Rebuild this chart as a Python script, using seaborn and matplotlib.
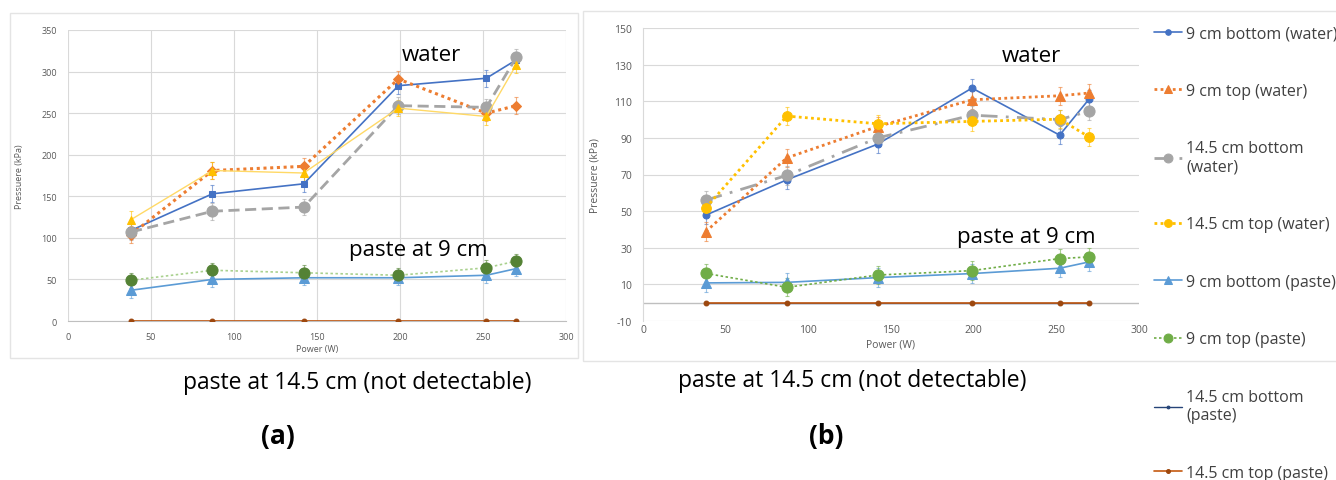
import matplotlib
matplotlib.use("Agg")
import matplotlib.pyplot as plt
import matplotlib.patches as patches
import seaborn as sns

sns.set_style("white")
plt.rcParams['font.family'] = ['Open Sans', 'DejaVu Sans']
plt.rcParams['axes.unicode_minus'] = False

# power levels (W)
power = [38, 87, 142, 199, 252, 270]

series_names = ["9 cm bottom (water)", "9 cm top (water)", "14.5 cm bottom\n(water)",
                "14.5 cm top (water)", "9 cm bottom (paste)", "9 cm top (paste)",
                "14.5 cm bottom\n(paste)", "14.5 cm top (paste)"]

# panel (a) pressures (kPa)
a_bottom9_water = [109, 153, 165, 283, 292, 314]
a_top9_water = [104, 181, 186, 291, 250, 259]
a_bottom145_water = [107, 132, 137, 259, 257, 317]
a_top145_water = [122, 181, 178, 256, 246, 308]
a_bottom9_paste = [37, 50, 52, 52, 55, 63]
a_top9_paste = [49, 61, 58, 55, 64, 72]
a_bottom145_paste = [0, 0, 0, 0, 0, 0]
a_top145_paste = [0, 0, 0, 0, 0, 0]
a_err = [10, 10, 10, 10, 9, 9, 0, 0]

# panel (b) pressures (kPa)
b_bottom9_water = [47.8, 67.1, 86.6, 117.2, 91.5, 111.4]
b_top9_water = [38.8, 79.1, 96.2, 110.8, 113.0, 114.5]
b_bottom145_water = [56.0, 69.5, 90.0, 102.4, 100.0, 104.6]
b_top145_water = [51.8, 101.9, 97.7, 99.0, 100.2, 90.4]
b_bottom9_paste = [10.8, 11.1, 13.7, 15.9, 18.8, 22.3]
b_top9_paste = [16.0, 8.4, 15.1, 17.5, 24.1, 25.0]
b_bottom145_paste = [0, 0, 0, 0, 0, 0]
b_top145_paste = [0, 0, 0, 0, 0, 0]
b_err = [5, 5, 5, 5, 5, 5, 0, 0]

a_values = [a_bottom9_water, a_top9_water, a_bottom145_water, a_top145_water,
            a_bottom9_paste, a_top9_paste, a_bottom145_paste, a_top145_paste]
b_values = [b_bottom9_water, b_top9_water, b_bottom145_water, b_top145_water,
            b_bottom9_paste, b_top9_paste, b_bottom145_paste, b_top145_paste]

# (line colour, marker colour, linestyle, linewidth, marker, markersize)
a_styles = [
    ("#4472C4", "#4472C4", "-", 1.2, "s", 5),
    ("#ED7D31", "#ED7D31", (0, (1, 1.2)), 2.2, "D", 5),
    ("#A5A5A5", "#A5A5A5", (0, (4, 2)), 2.0, "o", 8),
    ("#FFD966", "#FFC000", "-", 1.0, "^", 6),
    ("#5B9BD5", "#5B9BD5", "-", 1.2, "^", 7),
    ("#A9D18E", "#548235", (0, (1.5, 1.5)), 1.2, "o", 8),
    ("#264478", "#264478", "-", 1.0, "o", 2.5),
    ("#C55A11", "#9E480E", "-", 1.2, "o", 3.5),
]
b_styles = [
    ("#4472C4", "#4472C4", "-", 1.2, "o", 5),
    ("#ED7D31", "#ED7D31", (0, (1, 1.2)), 2.0, "^", 7),
    ("#A5A5A5", "#A5A5A5", (0, (6, 3, 1, 3)), 2.0, "o", 8),
    ("#FFC000", "#FFC000", (0, (1, 1.2)), 2.0, "o", 7),
    ("#5B9BD5", "#5B9BD5", "-", 1.2, "^", 7),
    ("#70AD47", "#70AD47", (0, (1.5, 1.5)), 1.2, "o", 8),
    ("#264478", "#264478", "-", 1.0, "o", 2.5),
    ("#C55A11", "#9E480E", "-", 1.2, "o", 3.5),
]

fig = plt.figure(figsize=(13.36, 4.81), dpi=100)
W, H = 1336, 481
axA = fig.add_axes([68 / W, 1 - 322 / H, (566 - 68) / W, (322 - 31) / H])
axB = fig.add_axes([643 / W, 1 - 322 / H, (1139 - 643) / W, (322 - 29) / H])

def draw(ax, values, styles, errs):
    for name, vals, st, e in zip(series_names, values, styles, errs):
        lc, mc, ls, lw, mk, ms = st
        if e > 0:
            ax.errorbar(power, vals, yerr=e, fmt="none", ecolor=mc, elinewidth=0.8,
                        capsize=1.5, capthick=0.8, alpha=0.6, zorder=2)
        sns.lineplot(x=power, y=vals, ax=ax, color=lc, linestyle=ls, linewidth=lw,
                     marker=mk, markersize=ms, markerfacecolor=mc, markeredgecolor=mc,
                     errorbar=None, label=name, zorder=3)
    if ax.get_legend() is not None:
        ax.get_legend().remove()

draw(axA, a_values, a_styles, a_err)
draw(axB, b_values, b_styles, b_err)

grid_c = "#D9D9D9"
tick_c = "#595959"

axA.set_xlim(0, 300)
axA.set_ylim(0, 350)
axA.set_xticks(range(0, 301, 50))
axA.set_yticks(range(0, 351, 50))
axA.grid(True, color=grid_c, linewidth=0.8)
for s in axA.spines.values():
    s.set_visible(False)
axA.spines["bottom"].set_visible(True)
axA.spines["bottom"].set_color("#BFBFBF")
axA.tick_params(length=0, labelsize=6.5, labelcolor=tick_c, pad=8)
axA.set_xlabel("Power (W)", fontsize=6.5, color=tick_c, labelpad=2)
axA.set_ylabel("Pressuere (kPa)", fontsize=6.5, color=tick_c, labelpad=12)

axB.set_xlim(0, 300)
axB.set_ylim(-10, 150)
axB.set_xticks(range(0, 301, 50))
axB.set_yticks(range(-10, 151, 20))
axB.grid(True, axis="y", color=grid_c, linewidth=0.8)
for s in axB.spines.values():
    s.set_visible(False)
axB.spines["left"].set_visible(True)
axB.spines["left"].set_color(grid_c)
axB.axhline(0, color="#BFBFBF", linewidth=1.0, zorder=1)
axB.tick_params(length=0, labelsize=7.5, labelcolor=tick_c, pad=2)
axB.tick_params(axis="y", pad=8)
axB.set_xlabel("Power (W)", fontsize=7.5, color=tick_c, labelpad=3)
axB.set_ylabel("Pressuere (kPa)", fontsize=7.5, color=tick_c, labelpad=10)

txt = dict(ha="center", va="center", color="black")
axA.text(219, 321, "water", fontsize=16, **txt)
axA.text(211, 86, "paste at 9 cm", fontsize=16, **txt)
axB.text(235, 135, "water", fontsize=16, **txt)
axB.text(232, 36, "paste at 9 cm", fontsize=16, **txt)

fig.text(357 / W, 1 - 383 / H, "paste at 14.5 cm (not detectable)", fontsize=16.5, **txt)
fig.text(852 / W, 1 - 381 / H, "paste at 14.5 cm (not detectable)", fontsize=16.5, **txt)
fig.text(278 / W, 1 - 437 / H, "(a)", fontsize=19, fontweight="bold", **txt)
fig.text(826 / W, 1 - 437 / H, "(b)", fontsize=19, fontweight="bold", **txt)

# chart frames
fig.add_artist(patches.Rectangle((10 / W, 1 - 359 / H), 568 / W, 345 / H, transform=fig.transFigure,
                                 fill=False, edgecolor="#E4E4E4", linewidth=1.0))
fig.add_artist(patches.Rectangle((583 / W, 1 - 362 / H), 800 / W, 350 / H, transform=fig.transFigure,
                                 fill=False, edgecolor="#E4E4E4", linewidth=1.0))

handles, labels = axB.get_legend_handles_labels()
leg = fig.legend(handles, labels, loc="upper left", bbox_to_anchor=(1148 / W, 1 - 20 / H),
                 frameon=False, fontsize=11.5, labelspacing=2.6, handlelength=1.7,
                 handletextpad=0.3, borderaxespad=0, markerscale=0.8)
for t in leg.get_texts():
    t.set_color("#404040")

fig.savefig("out.png", dpi=100)
